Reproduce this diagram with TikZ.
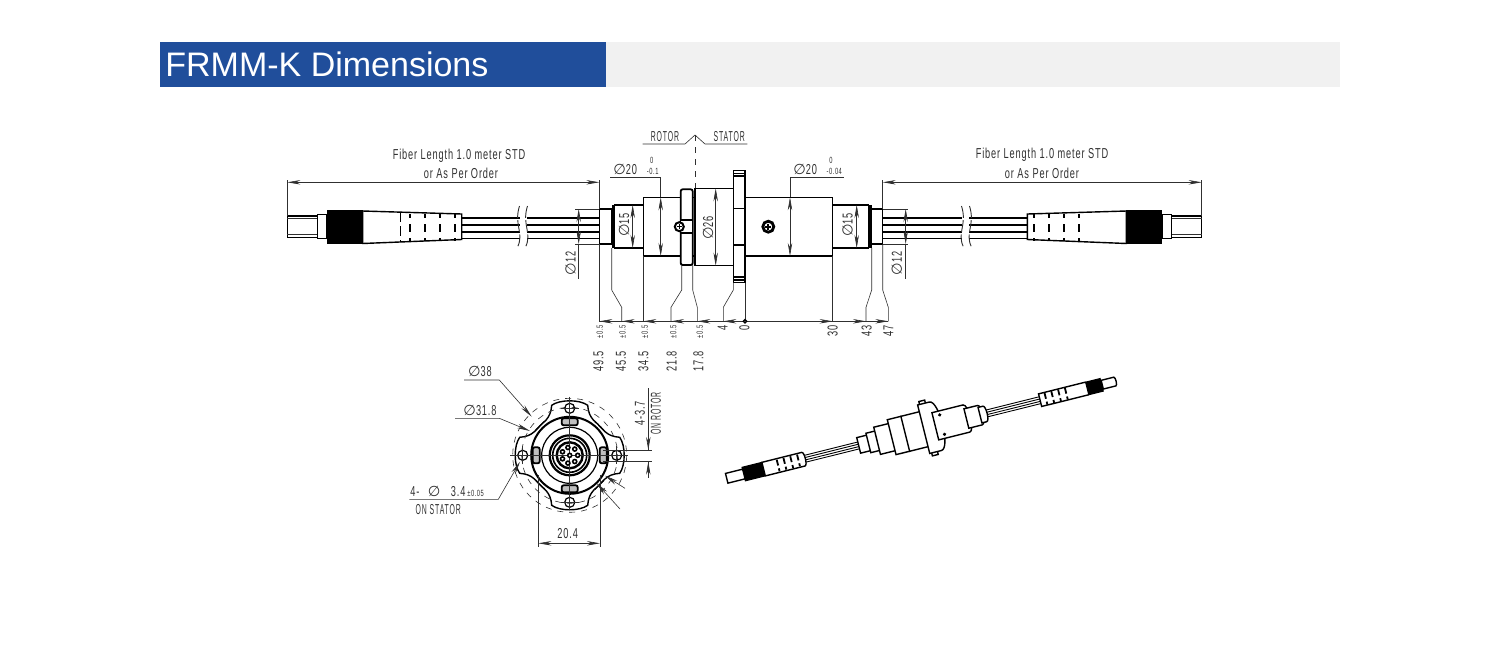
\documentclass[tikz,border=0pt]{standalone}
\usepackage{fontspec}
\usetikzlibrary{arrows.meta}
\setmainfont{Liberation Sans}
\newfontfamily\dwgfont[FakeStretch=0.64,LetterSpace=6]{Liberation Sans}
\newfontfamily\capsfont[FakeStretch=0.48,LetterSpace=6]{Liberation Sans}
\newfontfamily\symfont{DejaVu Sans}
\newcommand{\dia}{{\symfont ∅}}
\definecolor{titleblue}{HTML}{204E9B}
\definecolor{titlegrey}{HTML}{F1F1F1}
\definecolor{dwgink}{HTML}{303030}
\tikzset{
	>={Stealth[length=6.5pt, width=2.2pt]},
	thinline/.style = {line width=0.3pt, draw=dwgink},
	part/.style = {line width=0.7pt, draw=black, fill=white},
	dimtext/.style = {font=\dwgfont\fontsize{7.2}{8}\selectfont, text=dwgink, inner sep=0pt},
	capstext/.style = {font=\capsfont\fontsize{7.2}{8}\selectfont, text=dwgink, inner sep=0pt},
	tol/.style = {font=\dwgfont\fontsize{4.5}{5}\selectfont, text=dwgink, inner sep=0pt},
}
\begin{document}
\begin{tikzpicture}[x=0.5pt, y=-0.5pt]
	\useasboundingbox (0,0) rectangle (1500,659);
	\fill[titleblue] (160,42) rectangle (606,87);
	\fill[titlegrey] (606,42) rectangle (1340,87);
	\node[anchor = west, text=white, inner sep=0pt, font=\fontsize{17}{20}\selectfont] (title) at (165,64) {FRMM-K Dimensions};
	% fibers and end connectors
	\foreach \s/\o in {1/0,-1/1489} {
		\begin{scope}[shift={(\o,0)}, xscale=\s]
			\foreach \y in {218,225,232,238.5}
				\draw[line width=0.7pt] (461,\y)--(606.3,\y);
			\fill[white] (520,206) rectangle (527,247);
			\foreach \x in {519.5,527.5}
				\draw[thinline, line width=0.45pt, dash pattern=on 6pt off 1.2pt] (\x,206) .. controls (\x-6,225) and (\x+5,233) .. (\x-2,247);
			\draw[part] (287.3,216) rectangle (317.3,237.3);
			\draw[thinline] (287.3,218.5)--(317.3,218.5) (287.3,234.5)--(317.3,234.5);
			\draw[part] (317.3,214.7) rectangle (326.7,238.7);
			\draw[part] (362.7,211) -- (461.7,214) -- (461.7,239.5) -- (362.7,243.5) -- cycle;
			\fill[black] (326.7,210) rectangle (362.7,244);
			\foreach \x in {410,425,440,455}
				\draw[line width=1.2pt, dash pattern=on 2pt off 3pt on 4pt off 3pt on 2pt off 20pt] (\x,214)--(\x,241);
		\end{scope}
	}
	\draw[line width=0.7pt, dash pattern=on 5pt off 2pt] (400.7,212)--(400.7,242);
	% main body
	\draw[part] (599.3,209) rectangle (611.7,244);
	\draw[part] (614.3,205) rectangle (643.3,248);
	\fill[black] (611.7,205) rectangle (614.3,248);
	\draw[part] (643.3,197.3) rectangle (680.7,256);
	\draw[part] (692.7,197.3) rectangle (695,256);
	\draw[part] (695,188.3) rectangle (733.3,265.7);
	\draw[part, line width=0.9pt, rounded corners=1pt] (680.7,189.3) rectangle (692.7,265);
	\draw[part] (680.7,220) rectangle (692.7,233);
	\draw[part] (733.3,170.7) rectangle (745,282.7);
	\draw[line width=0.7pt] (733.3,173.5)--(745,173.5) (733.3,176)--(745,176) (733.3,208.5)--(745,208.5) (733.3,245)--(745,245) (733.3,277)--(745,277) (733.3,280)--(745,280);
	\draw[part] (745,197.3) rectangle (832.7,256);
	\draw[part] (832.7,205) rectangle (868.3,248);
	\fill[black] (868.3,205) rectangle (871.7,248);
	\draw[part] (871.7,209) rectangle (882.7,244);
	\draw[part, line width=1pt] (679.3,226.7) circle (4.5);
	\draw[line width=0.7pt] (676.8,226.7)--(681.8,226.7) (679.3,224.2)--(679.3,229.2);
	\draw[part, line width=1.4pt] (768.3,226.7) circle (5.5);
	\draw[line width=0.9pt] (765.3,226.7)--(771.3,226.7) (768.3,223.7)--(768.3,229.7);
	% rotor and stator mark
	\node[capstext] (rotorlabel) at (665,136.7) {ROTOR};
	\node[capstext] (statorlabel) at (729.3,136.7) {STATOR};
	\draw[thinline] (642.7,144)--(685,144)--(695,135)--(705,144)--(747.3,144);
	\draw[thinline, dashed] (695,135)--(695,188);
	% upper dimensions
	\node[dimtext] (fiberleft) at (459,156) {Fiber Length 1.0 meter STD};
	\node[dimtext] (orderleft) at (461,173) {or As Per Order};
	\node[dimtext] (fiberright) at (1042,155) {Fiber Length 1.0 meter STD};
	\node[dimtext] (orderright) at (1042,173) {or As Per Order};
	\draw[thinline, <->] (287.3,182.3)--(599.3,182.3);
	\draw[thinline, <->] (882.7,182.3)--(1201.7,182.3);
	\draw[thinline] (287.3,180)--(287.3,216) (599.3,180)--(599.3,209) (882.7,180)--(882.7,209) (1201.7,180)--(1201.7,216);
	\node[dimtext, anchor = west] (dialeft) at (613,169) {\dia 20};
	\node[tol] (dialefta) at (651.7,160.7) {0};
	\node[tol] (dialeftb) at (652.7,171.7) {-0.1};
	\node[dimtext, anchor = west] (diaright) at (793,169) {\dia 20};
	\node[tol] (diarighta) at (831,160.7) {0};
	\node[tol] (diarightb) at (834.3,171.7) {-0.04};
	\draw[thinline] (610,177.3)--(660.7,177.3) (790,177.3)--(844,177.3);
	\draw[thinline, <->] (660.7,197.3)--(660.7,256);
	\draw[thinline] (660.7,177.3)--(660.7,197.3) (790,177.3)--(790,197.3);
	\draw[thinline, <->] (790,197.3)--(790,256);
	\draw[thinline, <->] (632.7,205)--(632.7,248);
	\draw[thinline, <->] (856.7,205)--(856.7,248);
	\draw[thinline, <->] (715.7,188.3)--(715.7,265.7);
	\node[dimtext, rotate=90] (diaa) at (624,225) {\dia 15};
	\node[dimtext, rotate=90] (diab) at (847.7,225) {\dia 15};
	\node[dimtext, rotate=90] (diac) at (708,228) {\dia 26};
	\node[dimtext, rotate=90] (diad) at (570.7,263.3) {\dia 12};
	\node[dimtext, rotate=90] (diae) at (896.7,263.3) {\dia 12};
	\draw[thinline] (575,209)--(599.3,209) (575,244)--(599.3,244) (882.7,209)--(908,209) (882.7,244)--(908,244);
	\draw[thinline, <->] (578.7,209)--(578.7,244);
	\draw[thinline] (578.7,244)--(578.7,279);
	\draw[thinline, <->] (905.7,209)--(905.7,244);
	\draw[thinline] (905.7,244)--(905.7,279);
	% lower dimensions
	\draw[thinline] (599.3,244)--(599.3,321.3) (643.3,256)--(643.3,321.3) (745,282.7)--(745,321.3) (832.7,256)--(832.7,321.3);
	\foreach \xa/\xb/\ya in {611.7/621.7/248,681.7/671/265,692.7/697.3/265,733.3/723.3/282.7,871.7/866/248,882.7/888.3/244}
		\draw[thinline] (\xa,\ya)--(\xa,290)--(\xb,307.3)--(\xb,321.3);
	\foreach \x in {599.3,621.7,643.3,671,697.3,723.3}
		\draw[thinline, ->] (\x+14,321.3)--(\x,321.3);
	\foreach \x in {832.7,866,888.3}
		\draw[thinline, ->] (\x-14,321.3)--(\x,321.3);
	\draw[thinline] (599.3,321.3)--(888.3,321.3);
	\draw[part] (745,321.3) circle (1.6);
	\foreach \x/\t [count=\i] in {598.3/49.5,621/45.5,643.3/34.5,671.7/21.8,698.3/17.8} {
		\node[dimtext, rotate=90] (len\i) at (\x,361.7) {\t};
		\node[tol, rotate=90] (tol\i) at (\x+1.5,331.7) {±0.5};
	}
	\foreach \x/\t [count=\i] in {722.7/4,744.3/0,832.7/30,866.7/43,888.3/47}
		\node[dimtext, rotate=90, anchor = east] (pos\i) at (\x,325) {\t};
	% end view
	\draw[thinline, dashed] (569.7,455.3) circle (57);
	\foreach \a in {0,90,180,270} {
		\begin{scope}[shift={(569.7,455.3)}, rotate=\a]
			\draw[part] (-34,-25) .. controls (-26,-34) and (-19,-36) .. (-18,-50) .. controls (-10,-56) and (10,-56) .. (18,-50) .. controls (19,-36) and (26,-34) .. (34,-25);
		\end{scope}
	}
	\fill[white] (569.7,455.3) circle (38);
	\draw[thinline, dashed] (569.7,455.3) circle (48);
	\draw[line width=1pt] (569.7,455.3) circle (38.5);
	\draw[line width=0.6pt] (569.7,455.3) circle (28);
	\draw[line width=1.1pt] (569.7,455.3) circle (20);
	\draw[line width=0.8pt] (569.7,455.3) circle (17);
	\draw[line width=1.2pt] (569.7,455.3) circle (13);
	\foreach \a in {0,90,180,270} {
		\begin{scope}[shift={(569.7,455.3)}, rotate=\a]
			\draw[line width=0.6pt] (0,-47) circle (5);
			\draw[thinline] (-9,-47)--(9,-47);
			\draw[line width=0.9pt, fill=black!25, rounded corners=1pt] (-8,-37) rectangle (8,-30);
		\end{scope}
	}
	\draw[thinline] (510,455.3)--(628,455.3) (569.7,396.7)--(569.7,510);
	\foreach \a in {0,51,103,154,206,257,309}
		\draw[line width=0.8pt, fill=white] (569.7,455.3)++(\a:8) circle (2);
	\draw[line width=0.8pt, fill=white] (569.7,455.3) circle (2);
	\node[dimtext] (frontb) at (480,371) {\dia 38};
	\node[dimtext] (frontc) at (480,410) {\dia 31.8};
	\draw[thinline, ->] (464,380)--(499.3,380)--(531.7,416.7);
	\draw[thinline, ->] (455,418.3)--(499.3,418.3)--(530,431);
	\draw[thinline, ->] (620,509)--(596.7,483.3);
	\draw[thinline, ->] (625,488.3)--(605,475.7);
	\node[dimtext, anchor = west] (fronth) at (410,491.7) {4-\hspace{2.5pt} \dia\hspace{3.5pt} 3.4};
	\node[tol, anchor = west] (fronti) at (467,493) {±0.05};
	\node[capstext] (frontj) at (438.3,510) {ON STATOR};
	\draw[thinline, ->] (409.3,499.3)--(498.3,499.3)--(520,461.7);
	\node[dimtext, rotate=90] (frontk) at (640,413.3) {4-3.7};
	\node[capstext, rotate=90] (frontl) at (656,413.3) {ON ROTOR};
	\draw[thinline] (648.3,388)--(648.3,450) (603,450)--(651.7,450) (603,461.7)--(651.7,461.7) (648.3,461.7)--(648.3,478);
	\draw[thinline, ->] (648.3,436)--(648.3,450);
	\draw[thinline, ->] (648.3,476)--(648.3,461.7);
	\draw[thinline] (538.3,475)--(538.3,546.7) (600,475)--(600,546.7);
	\draw[thinline, <->] (538.3,543.3)--(600,543.3);
	\node[dimtext] (frontm) at (567.7,533.3) {20.4};
	% perspective view
	\begin{scope}[shift={(726.7,478.3)}, rotate=14]
		\foreach \v in {-3.5,-1.2,1.2,3.5}
			\draw[line width=0.45pt] (79,\v)--(136,\v) (266,\v)--(323,\v);
		\draw[part] (205,-28) rectangle (211,-23) (205,23) rectangle (211,28);
		\foreach \ua/\ub/\h in {0/17/5,38/79/7,136/146/8,146/155/10,155/170/14,170/184/18,184/203/18,203/215/25,215/247/14,247/261/10,261/266/8,323/371/6.5,387/400/4.5}
			\draw[part] (\ua,-\h)--(\ub,-\h) .. controls (\ub+0.4*\h,-\h) and (\ub+0.4*\h,\h) .. (\ub,\h)--(\ua,\h)--cycle;
		\fill[black] (17,-7.5) rectangle (38,7.5);
		\fill[black] (371,-7) rectangle (387,7);
		\foreach \u in {53,60,67,74,329,336,343,350}
			\draw[line width=0.9pt, dash pattern=on 3pt off 1.5pt] (\u,-6)--(\u,6);
		\foreach \v in {-10,10}
			\fill[black] (222,\v) circle (1.8);
	\end{scope}
\end{tikzpicture}
\end{document}
